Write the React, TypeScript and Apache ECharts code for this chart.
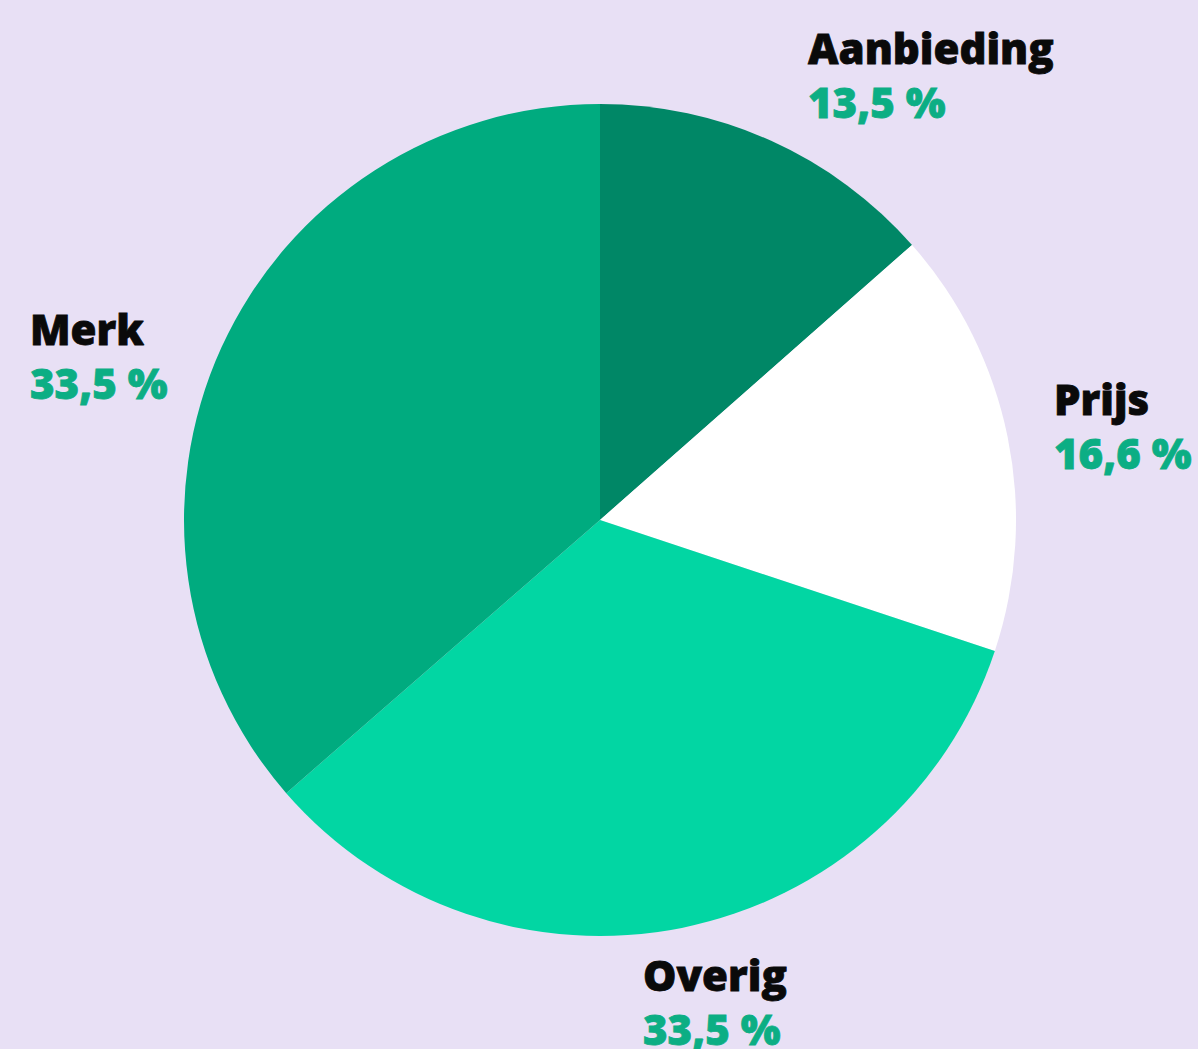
import React, { useEffect, useRef } from "react";
import * as echarts from "echarts";

const categories = ["Aanbieding", "Prijs", "Overig", "Merk"];
const sliceValues = [13.5, 16.6, 33.5, 36.4];
const shownPercent = ["13,5 %", "16,6 %", "33,5 %", "33,5 %"];
const sliceColors = ["#008766", "#ffffff", "#02d6a3", "#00ab7f"];

// label anchor points (left edge, vertical middle of the two-line block)
const labelAnchors = [
  [808, 74],
  [1054, 425],
  [643, 1001],
  [30, 355],
];

export default function App() {
  const ref = useRef<HTMLDivElement>(null);
  useEffect(() => {
    const chart = echarts.init(ref.current!, undefined, { renderer: "svg" });
    chart.setOption({
      animation: false,
      backgroundColor: "#e8e0f5",
      series: [
        {
          type: "pie",
          center: [600, 520],
          radius: 416,
          startAngle: 90,
          clockwise: true,
          avoidLabelOverlap: false,
          itemStyle: { borderWidth: 0 },
          emphasis: { disabled: true },
          data: categories.map((c, i) => ({
            name: c,
            value: sliceValues[i],
            itemStyle: { color: sliceColors[i] },
          })),
          label: {
            show: true,
            position: "outside",
            formatter: (p: any) => `{n|${p.name}}\n{v|${shownPercent[p.dataIndex]}}`,
            rich: {
              n: {
                fontFamily: "Open Sans",
                fontWeight: 800,
                fontSize: 42,
                color: "#0a0a0a",
                textBorderColor: "#0a0a0a",
                textBorderWidth: 0.8,
                lineHeight: 54,
              },
              v: {
                fontFamily: "Open Sans",
                fontWeight: 800,
                fontSize: 42,
                color: "#0cae84",
                textBorderColor: "#0cae84",
                textBorderWidth: 0.8,
                lineHeight: 54,
              },
            },
          },
          labelLine: { show: false },
          labelLayout: (params: any) => {
            const a = labelAnchors[params.dataIndex];
            return { x: a[0], y: a[1], align: "left", verticalAlign: "middle" };
          },
        },
      ],
    });
    return () => chart.dispose();
  }, []);
  return (
    <div
      ref={ref}
      style={{ position: "fixed", left: 0, top: 0, width: 1198, height: 1049 }}
    />
  );
}
